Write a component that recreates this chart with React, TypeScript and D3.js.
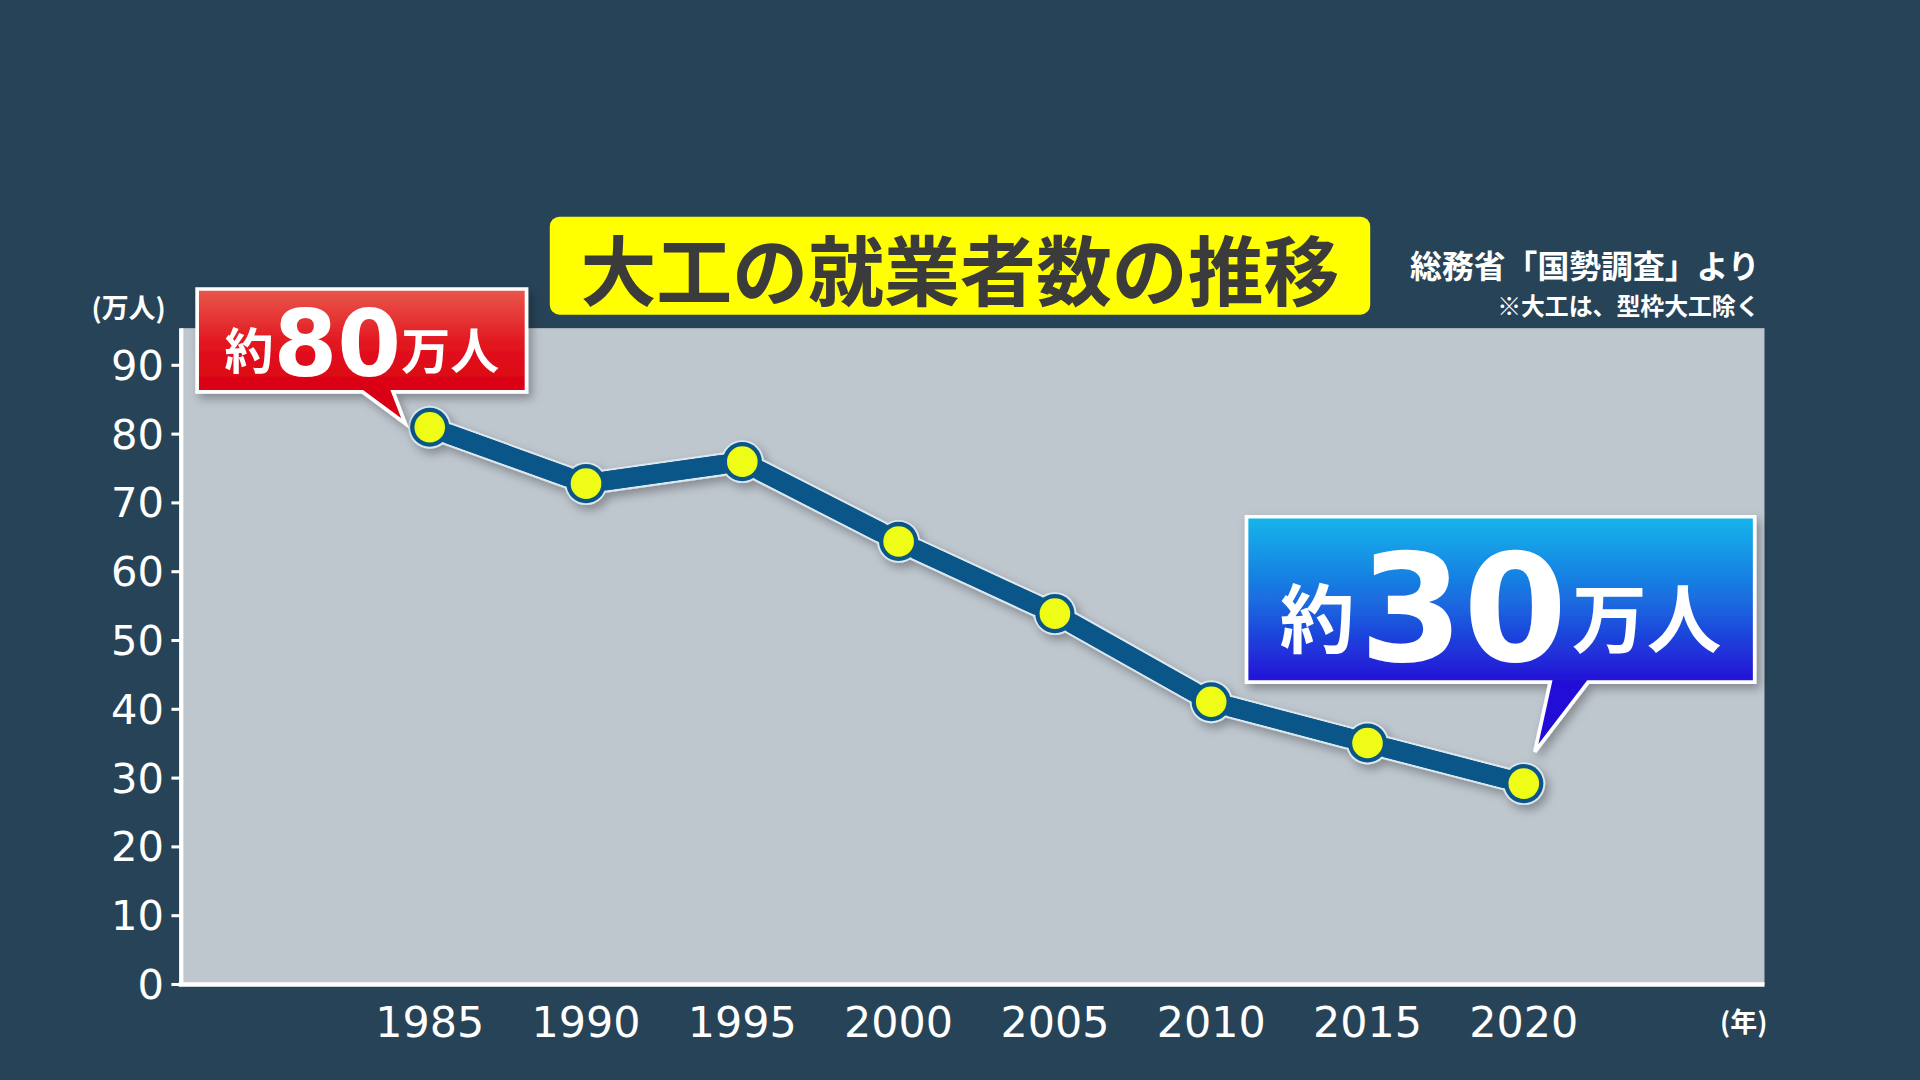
import * as d3 from "d3";

const years = [1985, 1990, 1995, 2000, 2005, 2010, 2015, 2020];
const workers = [81.0, 72.8, 76.0, 64.4, 53.9, 41.1, 35.1, 29.2];
const yTicks = [0, 10, 20, 30, 40, 50, 60, 70, 80, 90];

const W = 1568;
const H = 882;
const plot = { left: 148, right: 1441, top: 268, bottom: 804 };

const cjk = "'Noto Sans CJK JP', sans-serif";
const num = "'DejaVu Sans', 'Liberation Sans', sans-serif";

export default function App() {
  const x = d3.scaleLinear().domain([1977.05, 2027.7]).range([plot.left, plot.right]);
  const y = d3.scaleLinear().domain([0, 95.4]).range([plot.bottom, plot.top]);

  const data = years.map((yr, i) => ({ yr, v: workers[i] }));
  const line = d3
    .line<{ yr: number; v: number }>()
    .x((d) => x(d.yr))
    .y((d) => y(d.v));
  const path = line(data) || "";

  // callout tips point at first and last data points
  const first = data[0];
  const last = data[data.length - 1];
  const redTip = [x(first.yr) - 20, y(first.v) - 3];
  const blueTip = [x(last.yr) + 9, y(last.v) - 26];

  const red = { x0: 161, x1: 430, y0: 236, y1: 320 };
  const blue = { x0: 1018, x1: 1433, y0: 422, y1: 557 };

  const redPath = `M${red.x0},${red.y0}H${red.x1}V${red.y1}H321L${redTip[0]},${redTip[1]}L296,${red.y1}H${red.x0}Z`;
  const bluePath = `M${blue.x0},${blue.y0}H${blue.x1}V${blue.y1}H1297L${blueTip[0]},${blueTip[1]}L1266,${blue.y1}H${blue.x0}Z`;

  return (
    <svg
      viewBox={`0 0 ${W} ${H}`}
      width={1920}
      height={1080}
      style={{ position: "absolute", left: 0, top: 0, display: "block" }}
    >
      <defs>
        <filter id="shadow" x="-20%" y="-20%" width="140%" height="160%">
          <feDropShadow dx="3" dy="4" stdDeviation="4" floodColor="#000" floodOpacity="0.3" />
        </filter>
        <linearGradient id="redGrad" gradientUnits="userSpaceOnUse" x1="0" y1={red.y0} x2="0" y2={red.y1}>
          <stop offset="0" stopColor="#e9584c" />
          <stop offset="0.55" stopColor="#e2141e" />
          <stop offset="1" stopColor="#d90012" />
        </linearGradient>
        <linearGradient id="blueGrad" gradientUnits="userSpaceOnUse" x1="0" y1={blue.y0} x2="0" y2={blue.y1}>
          <stop offset="0" stopColor="#12b6ea" />
          <stop offset="0.5" stopColor="#1a6de0" />
          <stop offset="1" stopColor="#2410d6" />
        </linearGradient>
      </defs>

      <rect x={0} y={0} width={W} height={H} fill="#274357" />

      {/* plot area */}
      <rect
        x={plot.left}
        y={plot.top}
        width={plot.right - plot.left}
        height={plot.bottom - plot.top}
        fill="#bec6ce"
      />

      {/* axes */}
      <line x1={plot.left} x2={plot.left} y1={plot.top} y2={plot.bottom + 1.5} stroke="#fff" strokeWidth={3.5} />
      <line x1={plot.left - 2} x2={plot.right} y1={plot.bottom} y2={plot.bottom} stroke="#fff" strokeWidth={3.5} />
      {yTicks.map((t) => (
        <g key={t}>
          <line x1={plot.left - 8} x2={plot.left} y1={y(t)} y2={y(t)} stroke="#fff" strokeWidth={2.5} />
          <text
            x={plot.left - 14}
            y={y(t)}
            textAnchor="end"
            dominantBaseline="central"
            fill="#fff"
            fontFamily={num}
            fontSize={34}
          >
            {t}
          </text>
        </g>
      ))}
      {years.map((yr) => (
        <text
          key={yr}
          x={x(yr)}
          y={835}
          textAnchor="middle"
          dominantBaseline="central"
          fill="#fff"
          fontFamily={num}
          fontSize={35}
        >
          {yr}
        </text>
      ))}
      <text x={105} y={250} textAnchor="middle" dominantBaseline="central" fill="#fff" fontFamily={cjk} fontWeight={700} fontSize={22}>
        (万人)
      </text>
      <text x={1424} y={833} textAnchor="middle" dominantBaseline="central" fill="#fff" fontFamily={cjk} fontWeight={700} fontSize={22}>
        (年)
      </text>

      {/* series line */}
      <g filter="url(#shadow)">
        <path d={path} fill="none" stroke="#dde7ee" strokeWidth={19} strokeLinejoin="round" strokeLinecap="round" />
        <path d={path} fill="none" stroke="#0b5689" strokeWidth={15.5} strokeLinejoin="round" strokeLinecap="round" />
        {data.map((d) => (
          <circle key={"o" + d.yr} cx={x(d.yr)} cy={y(d.v)} r={17.5} fill="#dde7ee" />
        ))}
      </g>
      <path d={path} fill="none" stroke="#0b5689" strokeWidth={15.5} strokeLinejoin="round" strokeLinecap="round" />
      {data.map((d) => (
        <g key={d.yr}>
          <circle cx={x(d.yr)} cy={y(d.v)} r={16} fill="#0b5689" />
          <circle cx={x(d.yr)} cy={y(d.v)} r={12.5} fill="#eefc16" />
        </g>
      ))}

      {/* title */}
      <rect x={449} y={177} width={670} height={80} rx={8} fill="#ffff00" />
      <text x={784} y={218} textAnchor="middle" dominantBaseline="central" fill="#3b3b3b" fontFamily={cjk} fontWeight={700} fontSize={62}>
        大工の就業者数の推移
      </text>
      <text x={1437} y={216} textAnchor="end" dominantBaseline="central" fill="#fff" fontFamily={cjk} fontWeight={700} fontSize={26}>
        総務省「国勢調査」より
      </text>
      <text x={1437} y={249} textAnchor="end" dominantBaseline="central" fill="#fff" fontFamily={cjk} fontWeight={700} fontSize={19.5}>
        ※大工は、型枠大工除く
      </text>

      {/* red callout */}
      <path d={redPath} fill="url(#redGrad)" stroke="#fff" strokeWidth={3} strokeLinejoin="miter" filter="url(#shadow)" />
      <text x={(red.x0 + red.x1) / 2} y={301} textAnchor="middle" fill="#fff" fontFamily={cjk} fontWeight={700} fontSize={40}>
        <tspan>約</tspan>
        <tspan dy={6} fontFamily={num} fontSize={75} fontWeight={700}>80</tspan>
        <tspan dy={-6}>万人</tspan>
      </text>

      {/* blue callout */}
      <path d={bluePath} fill="url(#blueGrad)" stroke="#fff" strokeWidth={3} strokeLinejoin="miter" filter="url(#shadow)" />
      <text x={(blue.x0 + blue.x1) / 2} y={528} textAnchor="middle" fill="#fff" fontFamily={cjk} fontWeight={700} fontSize={61}>
        <tspan>約</tspan>
        <tspan dy={12} dx={4} fontFamily={num} fontSize={122} fontWeight={700}>30</tspan>
        <tspan dy={-12} dx={4}>万人</tspan>
      </text>
    </svg>
  );
}
